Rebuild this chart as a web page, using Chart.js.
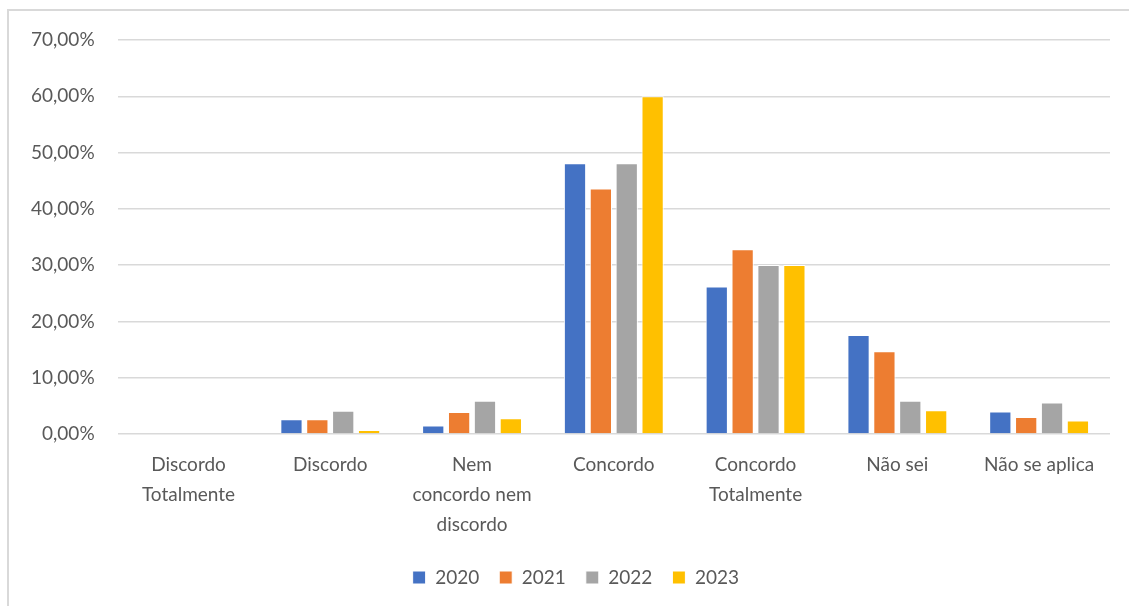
<!DOCTYPE html>
<html lang="pt">
<head>
    <meta charset="UTF-8">
    <title>Respostas por ano</title>
    <style>
        body {
            margin: 0;
            background: #fff;
        }
        .frame {
            position: absolute;
            left: 7px;
            top: 9px;
            width: 1140px;
            height: 620px;
            border: 2px solid #d9d9d9;
        }
        .chart-box {
            position: absolute;
            left: 0;
            top: 0;
            width: 1129px;
            height: 606px;
        }
    </style>
</head>
<body>
    <div class="frame"></div>
    <div class="chart-box">
        <canvas id="barChart"></canvas>
    </div>
    <script src="https://cdn.jsdelivr.net/npm/chart.js"></script>
    <script>
        // Categorias de resposta (rótulos quebrados em linhas)
        const categories = [
            ['Discordo', 'Totalmente'],
            'Discordo',
            ['Nem', 'concordo nem', 'discordo'],
            'Concordo',
            ['Concordo', 'Totalmente'],
            'Não sei',
            'Não se aplica'
        ];
        const years = ['2020', '2021', '2022', '2023'];

        // Percentuais por ano
        const values2020 = [0, 2.6, 1.5, 48.1, 26.2, 17.6, 4.0];
        const values2021 = [0, 2.6, 3.9, 43.6, 32.8, 14.7, 3.0];
        const values2022 = [0, 4.1, 5.9, 48.1, 30.0, 5.9, 5.6];
        const values2023 = [0, 0.7, 2.8, 60.0, 30.0, 4.2, 2.4];

        const yTicks = [0, 10, 20, 30, 40, 50, 60, 70];
        const colors = ['#4472c4', '#ed7d31', '#a5a5a5', '#ffc000'];

        const series = [values2020, values2021, values2022, values2023];

        // Legenda centrada sob a área do gráfico, e não sob o canvas inteiro
        const legendShift = {
            id: 'legendShift',
            afterLayout(chart) {
                const area = chart.chartArea;
                const legend = chart.legend;
                const dx = (area.left + area.right) / 2 - (legend.left + legend.right) / 2 - 38;
                legend.left += dx;
                legend.right += dx;
            }
        };

        const ctx = document.getElementById('barChart').getContext('2d');
        Chart.defaults.font.family = 'Lato, "Open Sans", sans-serif';
        Chart.defaults.color = '#595959';

        new Chart(ctx, {
            type: 'bar',
            data: {
                labels: categories,
                datasets: years.map((year, i) => ({
                    label: year,
                    data: series[i],
                    backgroundColor: colors[i],
                    borderColor: '#ffffff',
                    borderWidth: 1,
                    categoryPercentage: 0.73,
                    barPercentage: 0.86
                }))
            },
            options: {
                responsive: true,
                maintainAspectRatio: false,
                animation: false,
                layout: {
                    padding: { left: 8, right: 19, top: 40, bottom: 9 }
                },
                plugins: {
                    tooltip: { enabled: false },
                    legend: {
                        position: 'bottom',
                        labels: {
                            boxWidth: 13,
                            boxHeight: 13,
                            padding: 20,
                            font: { size: 19 },
                            color: '#595959'
                        }
                    }
                },
                scales: {
                    x: {
                        grid: { display: false },
                        border: { display: false },
                        ticks: {
                            maxRotation: 0,
                            autoSkip: false,
                            padding: 8,
                            font: { size: 19, lineHeight: 1.58 },
                            color: '#595959'
                        }
                    },
                    y: {
                        min: 0,
                        max: 70,
                        afterBuildTicks: axis => {
                            axis.ticks = yTicks.map(v => ({ value: v }));
                        },
                        grid: {
                            color: '#d9d9d9',
                            lineWidth: 1.5,
                            drawTicks: false
                        },
                        border: { display: false },
                        ticks: {
                            padding: 23,
                            font: { size: 19 },
                            color: '#595959',
                            callback: v => v.toFixed(2).replace('.', ',') + '%'
                        }
                    }
                }
            },
            plugins: [legendShift]
        });
    </script>
</body>
</html>
